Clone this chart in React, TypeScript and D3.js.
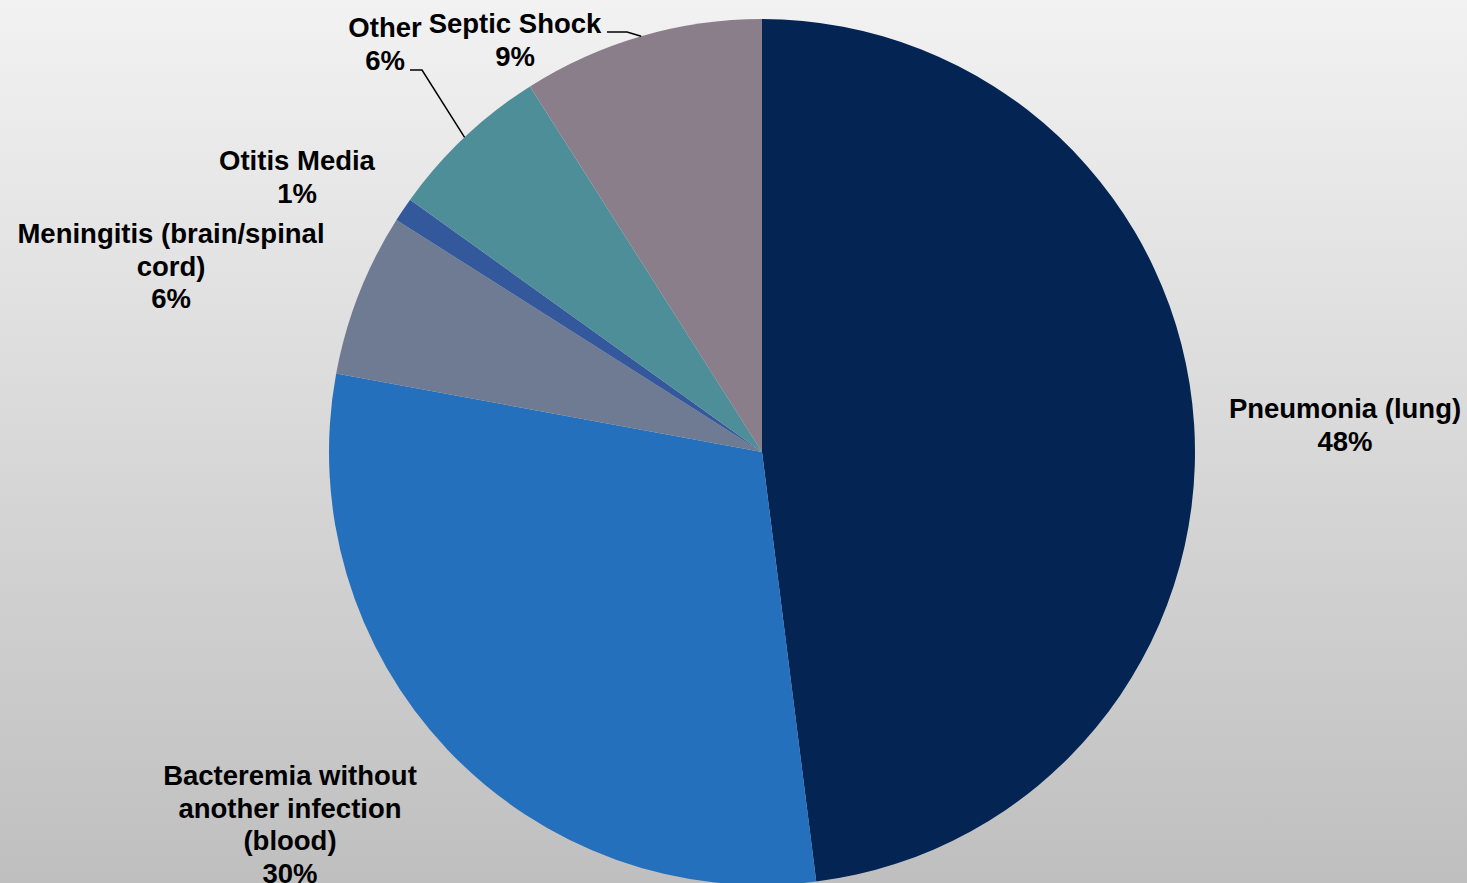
import React from "react";
import * as d3 from "d3";

const categories = [
  "Pneumonia (lung)",
  "Bacteremia without another infection (blood)",
  "Meningitis (brain/spinal cord)",
  "Otitis Media",
  "Other",
  "Septic Shock",
];
const values = [48.0, 29.9, 6.1, 0.9, 6.1, 9.0];
const colors = ["#042454", "#2470bc", "#6e7b92", "#34589c", "#4e8e98", "#8a7e8b"];
const labelLines = [
  ["Pneumonia (lung)"],
  ["Bacteremia without", "another infection", "(blood)"],
  ["Meningitis (brain/spinal", "cord)"],
  ["Otitis Media"],
  ["Other"],
  ["Septic Shock"],
];

// label layout: text center x, first baseline y, and optional leader line
const labelLayout = [
  { x: 1345, y: 418, leader: null },
  { x: 290, y: 785, leader: null },
  { x: 171, y: 243, leader: null },
  { x: 297, y: 170, leader: null },
  { x: 385, y: 37, leader: { x: 410, y: 70, dx: 12 } },
  { x: 515, y: 33, leader: { x: 607, y: 32, dx: 20 } },
];

const W = 1467;
const H = 883;
const CX = 762;
const CY = 452;
const R = 433;
const LINE = 32.5;

export default function App() {
  const total = d3.sum(values);
  const pie = d3.pie<number>().sort(null).value((d) => d);
  const arcs = pie(values);
  const arc = d3.arc<d3.PieArcDatum<number>>().innerRadius(0).outerRadius(R);
  const pct = (v: number) => `${Math.round((v / total) * 100)}%`;

  return (
    <svg
      width={W}
      height={H}
      style={{ position: "absolute", left: 0, top: 0, display: "block" }}
      fontFamily="'Liberation Sans', Arial, sans-serif"
    >
      <defs>
        <linearGradient id="bg" x1="0" y1="0" x2="0" y2="1">
          <stop offset="0" stopColor="#f2f2f2" />
          <stop offset="1" stopColor="#bfbfbf" />
        </linearGradient>
      </defs>
      <rect x={0} y={0} width={W} height={H} fill="url(#bg)" />
      <g transform={`translate(${CX},${CY})`}>
        {arcs.map((a, i) => (
          <path key={i} d={arc(a) || ""} fill={colors[i]} />
        ))}
      </g>
      {arcs.map((a, i) => {
        const L = labelLayout[i];
        if (!L.leader) return null;
        const mid = (a.startAngle + a.endAngle) / 2;
        const ex = CX + R * Math.sin(mid);
        const ey = CY - R * Math.cos(mid);
        const p = `M${L.leader.x},${L.leader.y}H${L.leader.x + L.leader.dx}L${ex},${ey}`;
        return <path key={"l" + i} d={p} fill="none" stroke="#000" strokeWidth={1.5} />;
      })}
      {arcs.map((a, i) => {
        const L = labelLayout[i];
        const lines = [...labelLines[i], pct(values[i])];
        return (
          <text
            key={"t" + i}
            x={L.x}
            y={L.y}
            textAnchor="middle"
            fontSize={27.5}
            fontWeight="bold"
            fill="#000"
          >
            {lines.map((ln, j) => (
              <tspan key={j} x={L.x} y={L.y + j * LINE}>
                {ln}
              </tspan>
            ))}
          </text>
        );
      })}
    </svg>
  );
}
